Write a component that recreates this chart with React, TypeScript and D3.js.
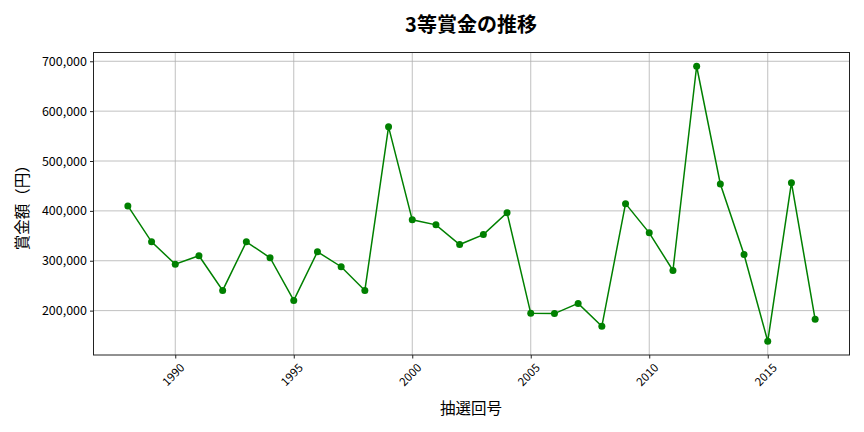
import React, { useEffect, useRef } from "react";
import * as d3 from "d3";

const years = [
  1988, 1989, 1990, 1991, 1992, 1993, 1994, 1995, 1996, 1997, 1998, 1999, 2000, 2001, 2002,
  2003, 2004, 2005, 2006, 2007, 2008, 2009, 2010, 2011, 2012, 2013, 2014, 2015, 2016, 2017,
];
const prizes = [
  410000, 338000, 293000, 310000, 240500, 338000, 306000, 220500, 318000, 288000, 240500,
  568500, 382000, 372000, 332500, 352500, 396500, 194500, 194000, 214500, 168500, 414500,
  356000, 280500, 690000, 454000, 312500, 138500, 456500, 182500,
];
const yTicks = [200000, 300000, 400000, 500000, 600000, 700000];
const xTicks = [1990, 1995, 2000, 2005, 2010, 2015];

const title = "3等賞金の推移";
const xLabel = "抽選回号";
const yLabel = "賞金額（円）";

const App: React.FC = () => {
  const ref = useRef<SVGSVGElement>(null);

  useEffect(() => {
    const svg = d3.select(ref.current);
    svg.selectAll("*").remove();

    const width = 864;
    const height = 432;
    const margin = { top: 52.5, right: 14.5, bottom: 77, left: 93.5 };
    const font = "'Noto Sans CJK JP', 'Noto Sans', sans-serif";

    const x = d3
      .scaleLinear()
      .domain([1986.55, 2018.45])
      .range([margin.left, width - margin.right]);

    const y = d3
      .scaleLinear()
      .domain([111000, 717600])
      .range([height - margin.bottom, margin.top]);

    // grid
    const grid = svg.append("g").attr("stroke", "#b0b0b0").attr("stroke-width", 0.8);
    xTicks.forEach((t) => {
      grid.append("line")
        .attr("x1", x(t)).attr("x2", x(t))
        .attr("y1", margin.top).attr("y2", height - margin.bottom);
    });
    yTicks.forEach((t) => {
      grid.append("line")
        .attr("x1", margin.left).attr("x2", width - margin.right)
        .attr("y1", y(t)).attr("y2", y(t));
    });

    // x axis
    svg
      .append("g")
      .attr("transform", `translate(0,${height - margin.bottom})`)
      .call(d3.axisBottom(x).tickValues(xTicks).tickFormat(d3.format("d")).tickSize(3.5).tickSizeOuter(0))
      .call((g) => g.select(".domain").remove())
      .call((g) => g.selectAll("line").attr("stroke", "#222"))
      .call((g) =>
        g.selectAll("text")
          .attr("font-family", font)
          .attr("font-size", 11.5)
          .attr("fill", "#000")
          .attr("text-anchor", "end")
          .attr("dy", null)
          .attr("transform", "translate(5,9) rotate(-45)")
      );

    // y axis
    svg
      .append("g")
      .attr("transform", `translate(${margin.left},0)`)
      .call(d3.axisLeft(y).tickValues(yTicks).tickFormat(d3.format(",")).tickSize(3.5).tickSizeOuter(0))
      .call((g) => g.select(".domain").remove())
      .call((g) => g.selectAll("line").attr("stroke", "#222"))
      .call((g) =>
        g.selectAll("text")
          .attr("font-family", font)
          .attr("font-size", 12.5)
          .attr("fill", "#000")
      );

    // frame
    svg.append("rect")
      .attr("x", margin.left).attr("y", margin.top)
      .attr("width", width - margin.left - margin.right)
      .attr("height", height - margin.top - margin.bottom)
      .attr("fill", "none").attr("stroke", "#222").attr("stroke-width", 1);

    const line = d3
      .line<number>()
      .x((d, i) => x(years[i]))
      .y((d) => y(d));

    svg.append("path")
      .datum(prizes)
      .attr("d", line)
      .attr("fill", "none")
      .attr("stroke", "green")
      .attr("stroke-width", 1.5);

    svg.append("g")
      .selectAll("circle")
      .data(prizes)
      .join("circle")
      .attr("cx", (d, i) => x(years[i]))
      .attr("cy", (d) => y(d))
      .attr("r", 3.5)
      .attr("fill", "green");

    svg.append("text")
      .attr("x", 471).attr("y", 32)
      .attr("text-anchor", "middle")
      .attr("font-family", font)
      .attr("font-size", 20)
      .attr("font-weight", "bold")
      .attr("fill", "#000")
      .text(title);

    svg.append("text")
      .attr("x", 471).attr("y", 414)
      .attr("text-anchor", "middle")
      .attr("font-family", font)
      .attr("font-size", 15.5)
      .attr("fill", "#000")
      .text(xLabel);

    svg.append("text")
      .attr("transform", `translate(28,${(margin.top + height - margin.bottom) / 2}) rotate(-90)`)
      .attr("text-anchor", "middle")
      .attr("font-family", font)
      .attr("font-size", 15.5)
      .attr("fill", "#000")
      .text(yLabel);
  }, []);

  return (
    <div style={{ position: "absolute", left: 0, top: 0 }}>
      <svg ref={ref} width={864} height={432} style={{ display: "block", background: "white" }} />
    </div>
  );
};

export default App;
